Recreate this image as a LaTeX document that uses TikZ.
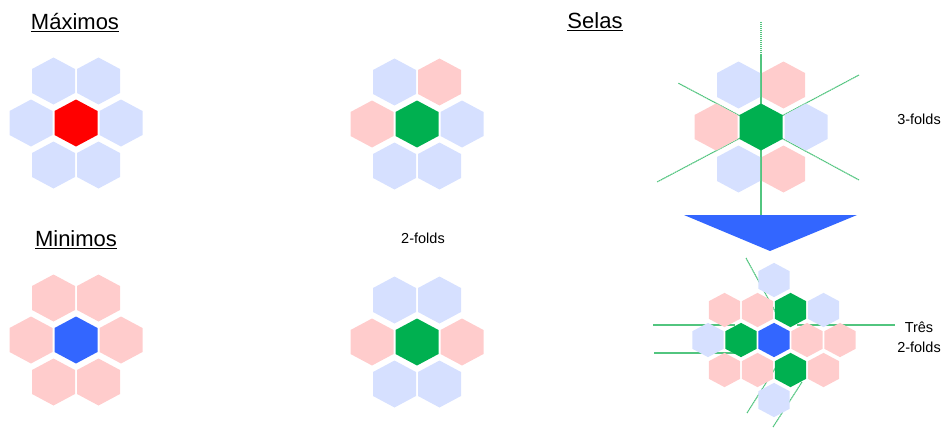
\documentclass[tikz,border=0pt]{standalone}
\usepackage{fontspec}
\setmainfont{Liberation Sans}
\usepackage{xcolor}
\usepackage{tikz}
\usetikzlibrary{calc}
\definecolor{hexBlue}{HTML}{D6E0FF}
\definecolor{hexPink}{HTML}{FFCCCC}
\definecolor{hexRed}{HTML}{FF0000}
\definecolor{hexGreen}{HTML}{00B050}
\definecolor{hexDeep}{HTML}{3366FF}
\definecolor{axisGreen}{HTML}{52C57F}

\begin{document}
\begin{tikzpicture}[
  x=1pt, y=-1pt,
  hexcell/.pic={\fill (0,-23.5) -- (21.5,-12) -- (21.5,12) -- (0,23.5) -- (-21.5,12) -- (-21.5,-12) -- cycle;},
  title/.style={font=\fontsize{22}{26}\selectfont, anchor=base, inner sep=0pt},
  tag/.style={font=\fontsize{14.5}{20}\selectfont, anchor=base, inner sep=0pt},
  axis/.style={draw=axisGreen, line width=1.1pt, dash pattern=on 1.5pt off .5pt}
]
  \useasboundingbox (0,0) rectangle (944,428);

  % titles and labels
  \node[title] (maximos) at (75,30) {\underline{Máximos}};
  \node[title] (selas) at (595,28.5) {\underline{Selas}};
  \node[title] (minimos) at (76,246.5) {\underline{Minimos}};
  \node[tag] (twofolds) at (423,243) {2-folds};
  \node[tag] (threefolds) at (919,124) {3-folds};
  \node[tag, align=center, anchor=center] (tres) at (919,337) {Três\\2-folds};

  % symmetry axes
  \coordinate (sela) at (761,127);
  \coordinate (arrowtop) at (761,215);
  \draw[axis] (761,22) -- (arrowtop);
  \draw[axis] (sela) -- ++(-83,-44);
  \draw[axis] (sela) -- ++(98,-52);
  \draw[axis] (sela) -- ++(-104,55);
  \draw[axis] (sela) -- ++(98,53);
  \draw[axis] (653,325) -- (735,325);
  \draw[axis] (797,325) -- (895,325);
  \draw[axis] (654,353) -- (735,353);
  \draw[axis] (746,258) -- (776,313);
  \draw[axis] (747,413) -- (776,367);
  \draw[axis] (773,427) -- (802,382);

  % Maximos
  \foreach \dx/\dy/\c in {-0.5/-1/hexBlue, 0.5/-1/hexBlue, -1/0/hexBlue, 0/0/hexRed,
                          1/0/hexBlue, -0.5/1/hexBlue, 0.5/1/hexBlue}
    \pic[fill=\c] at (76+45*\dx, 123+42*\dy) {hexcell};
  % Minimos
  \foreach \dx/\dy/\c in {-0.5/-1/hexPink, 0.5/-1/hexPink, -1/0/hexPink, 0/0/hexDeep,
                          1/0/hexPink, -0.5/1/hexPink, 0.5/1/hexPink}
    \pic[fill=\c] at (76+45*\dx, 340+42*\dy) {hexcell};
  % saddles, middle column
  \foreach \dx/\dy/\c in {-0.5/-1/hexBlue, 0.5/-1/hexPink, -1/0/hexPink, 0/0/hexGreen,
                          1/0/hexBlue, -0.5/1/hexBlue, 0.5/1/hexBlue}
    \pic[fill=\c] at (417+45*\dx, 124+42*\dy) {hexcell};
  \foreach \dx/\dy/\c in {-0.5/-1/hexBlue, 0.5/-1/hexBlue, -1/0/hexPink, 0/0/hexGreen,
                          1/0/hexPink, -0.5/1/hexBlue, 0.5/1/hexBlue}
    \pic[fill=\c] at (417+45*\dx, 342+42*\dy) {hexcell};
  % 3-fold saddle
  \foreach \dx/\dy/\c in {-0.5/-1/hexBlue, 0.5/-1/hexPink, -1/0/hexPink, 0/0/hexGreen,
                          1/0/hexBlue, -0.5/1/hexBlue, 0.5/1/hexPink}
    \pic[fill=\c] at (761+45*\dx, 127+42*\dy) {hexcell};

  \fill[hexDeep] (684,215) -- (857,215) -- (770,251) -- cycle;

  % three 2-fold saddles
  \foreach \dx/\dy/\c in {0/-2/hexBlue,
                          -1.5/-1/hexPink, -0.5/-1/hexPink, 0.5/-1/hexGreen, 1.5/-1/hexBlue,
                          -2/0/hexBlue, -1/0/hexGreen, 0/0/hexDeep, 1/0/hexPink, 2/0/hexPink,
                          -1.5/1/hexPink, -0.5/1/hexPink, 0.5/1/hexGreen, 1.5/1/hexPink,
                          0/2/hexBlue}
    \pic[fill=\c, scale=.73] at (774+33*\dx, 340+30*\dy) {hexcell};
\end{tikzpicture}
\end{document}
